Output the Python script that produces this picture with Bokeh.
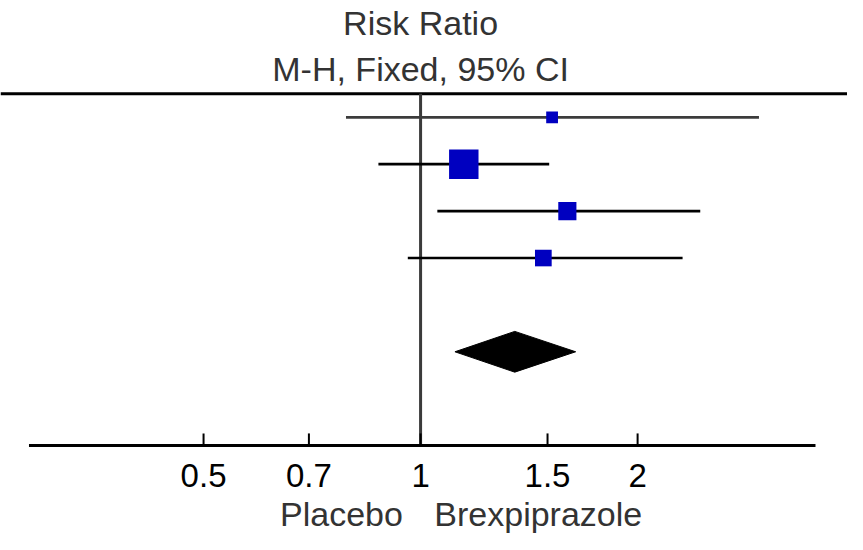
import math
from bokeh.plotting import figure
from bokeh.models import Range1d
from bokeh.core.properties import value
from bokeh.embed import file_html
from bokeh.resources import INLINE

# ---- data (risk ratios, 95% CI, weights in %) ----
study_rows = [1, 2, 3, 4]
rr_est = [1.522, 1.148, 1.598, 1.480]
rr_low = [0.788, 0.874, 1.055, 0.960]
rr_high = [2.947, 1.508, 2.443, 2.309]
weights = [8.6, 53.7, 20.4, 17.3]

pooled_row = 6
pooled_est = 1.351
pooled_low = 1.116
pooled_high = 1.641

tick_values = [0.5, 0.7, 1, 1.5, 2]
tick_labels = ["0.5", "0.7", "1", "1.5", "2"]
axis_min, axis_max = 0.2863, 3.53

title_lines = ["Risk Ratio", "M-H, Fixed, 95% CI"]
left_label = "Placebo"
right_label = "Brexpiprazole"

# ---- layout (reference 863x550 frame mapped onto the figure) ----
REF_W, REF_H = 863, 550
W, H = 847, 534
SX = W / REF_W
ROW0_PX, ROW_PX = 120.3, 48.3          # reference pixels
def row_at(ref_y):
    return 1 + (ref_y - ROW0_PX) / ROW_PX

X_LO, X_HI = 0.2614, 3.910             # log-scale extent of the frame

p = figure(width=W, height=H, x_axis_type="log",
           x_range=Range1d(X_LO, X_HI),
           y_range=Range1d(row_at(REF_H), row_at(0)),
           x_axis_location=None, y_axis_location=None,
           min_border=0, outline_line_color=None,
           toolbar_location=None, output_backend="svg",
           background_fill_color="white", border_fill_color="white")
p.grid.visible = False

axis_row = 8
top_row = 0.5
FONT = value("Liberation Sans")

# top rule across the whole width
p.segment(x0=[X_LO], y0=[top_row], x1=[X_HI], y1=[top_row],
          line_color="black", line_width=3)
# line of no effect
p.segment(x0=[1], y0=[top_row], x1=[1], y1=[axis_row],
          line_color="#3a3a3a", line_width=3)

# confidence intervals
ci_colors = ["#3c3c3c"] + ["#000000"] * (len(study_rows) - 1)
p.segment(x0=rr_low, y0=study_rows, x1=rr_high, y1=study_rows,
          line_color=ci_colors, line_width=2.7)

# squares sized by weight
wmax = max(weights)
sizes = [30 * SX * math.sqrt(w / wmax) for w in weights]
p.scatter(x=rr_est, y=study_rows, size=sizes, marker="square",
          fill_color="#0000C0", line_color=None)

# pooled diamond
dh = 21 / ROW_PX
p.patch(x=[pooled_low, pooled_est, pooled_high, pooled_est],
        y=[pooled_row, pooled_row - dh, pooled_row, pooled_row + dh],
        fill_color="black", line_color="black", line_width=1)

# bottom axis (drawn on the log scale)
p.segment(x0=[axis_min], y0=[axis_row], x1=[axis_max], y1=[axis_row],
          line_color="black", line_width=3)
tick_len = 12.5 / ROW_PX
p.segment(x0=tick_values, y0=[axis_row - tick_len] * len(tick_values),
          x1=tick_values, y1=[axis_row] * len(tick_values),
          line_color="black", line_width=2)
p.text(x=tick_values, y=[row_at(489)] * len(tick_values), text=tick_labels,
       text_font=FONT, text_font_size="33px", text_color="black",
       text_align="center", text_baseline="middle")

# titles
p.text(x=[1, 1], y=[row_at(23), row_at(71)], text=title_lines,
       text_font=FONT, text_font_size="34px", text_color="#333333",
       text_align="center", text_baseline="middle")

# favours labels
p.text(x=[1], y=[row_at(529)], text=[left_label], x_offset=-18 * SX,
       text_font=FONT, text_font_size="34px", text_color="#333333",
       text_align="right", text_baseline="middle")
p.text(x=[1], y=[row_at(529)], text=[right_label], x_offset=14 * SX,
       text_font=FONT, text_font_size="34px", text_color="#333333",
       text_align="left", text_baseline="middle")

open("out.html", "w").write(file_html(p, INLINE))
